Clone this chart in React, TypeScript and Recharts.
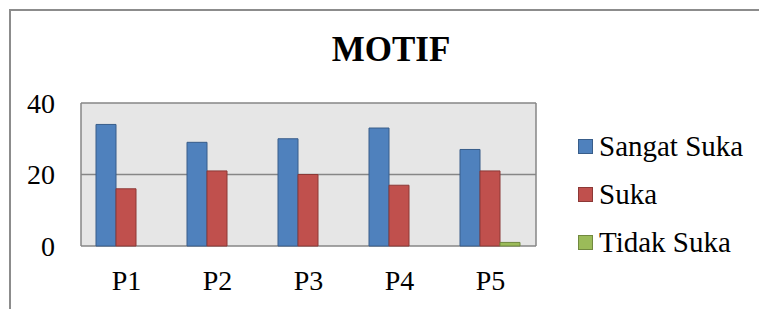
import { BarChart, Bar, XAxis, YAxis, CartesianGrid, Legend } from 'recharts'

const categories = ['P1', 'P2', 'P3', 'P4', 'P5']
const sangatSuka = [34, 29, 30, 33, 27]
const suka = [16, 21, 20, 17, 21]
const tidakSuka = [0, 0, 0, 0, 1]
const yTicks = [0, 20, 40]

const series = [
  { key: 'sangatSuka', name: 'Sangat Suka', fill: '#4f81bd', stroke: '#385d8a' },
  { key: 'suka', name: 'Suka', fill: '#c0504d', stroke: '#8c3836' },
  { key: 'tidakSuka', name: 'Tidak Suka', fill: '#9bbb59', stroke: '#71893f' },
]

const data = categories.map((c, i) => ({
  name: c,
  sangatSuka: sangatSuka[i],
  suka: suka[i],
  tidakSuka: tidakSuka[i],
}))

const font = '"Liberation Serif", "Times New Roman", serif'

function LegendBox() {
  return (
    <div style={{ fontFamily: font, fontSize: 29, color: '#000' }}>
      {series.map((s) => (
        <div key={s.key} style={{ display: 'flex', alignItems: 'center', height: 48 }}>
          <span
            style={{
              width: 13,
              height: 13,
              background: s.fill,
              border: `1px solid ${s.stroke}`,
              marginRight: 6,
              display: 'inline-block',
            }}
          />
          <span style={{ whiteSpace: 'nowrap' }}>{s.name}</span>
        </div>
      ))}
    </div>
  )
}

export default function App() {
  return (
    <div style={{ position: 'absolute', left: 0, top: 0, width: 759, height: 309, overflow: 'hidden', background: '#fff' }}>
      <div
        style={{
          position: 'absolute',
          left: 9,
          top: 9,
          width: 800,
          height: 400,
          borderTop: '2px solid #8c8c8c',
          borderLeft: '2px solid #8c8c8c',
        }}
      />
      <div
        style={{
          position: 'absolute',
          left: 0,
          width: 782,
          top: 28,
          textAlign: 'center',
          fontFamily: font,
          fontWeight: 'bold',
          fontSize: 35,
          lineHeight: '44px',
        }}
      >
        MOTIF
      </div>
      <BarChart
        width={759}
        height={309}
        data={data}
        margin={{ top: 103, right: 223, bottom: 0, left: 0 }}
        barCategoryGap="16.5%"
        barGap={0}
        style={{ position: 'absolute', left: 0, top: 0 }}
      >
        <CartesianGrid
          fill="#e6e6e6"
          stroke="#868686"
          strokeWidth={1.5}
          verticalPoints={[81, 536]}
        />
        <XAxis
          dataKey="name"
          axisLine={false}
          tickLine={false}
          tickSize={0}
          tickMargin={24}
          tick={{ fill: '#000', fontSize: 28, fontFamily: font }}
          height={63}
        />
        <YAxis
          domain={[0, 40]}
          ticks={yTicks}
          axisLine={false}
          tickLine={false}
          tickSize={0}
          tickMargin={26}
          width={81}
          tick={{ fill: '#000', fontSize: 28, fontFamily: font }}
        />
        <Legend
          layout="vertical"
          align="center"
          verticalAlign="middle"
          content={<LegendBox />}
          wrapperStyle={{ position: 'absolute', left: 578, top: 122, width: 180 }}
        />
        {series.map((s) => (
          <Bar
            key={s.key}
            dataKey={s.key}
            name={s.name}
            fill={s.fill}
            stroke={s.stroke}
            strokeWidth={1}
            isAnimationActive={false}
          />
        ))}
      </BarChart>
    </div>
  )
}
